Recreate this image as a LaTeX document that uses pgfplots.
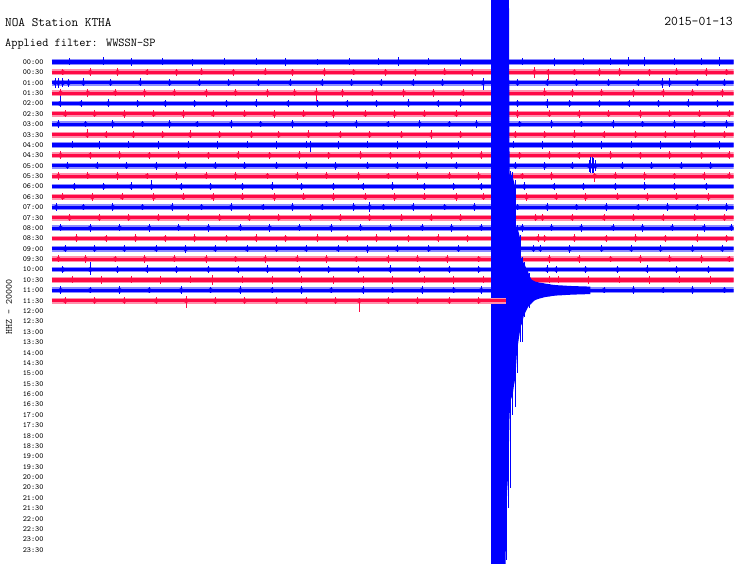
\documentclass[border=0pt]{standalone}
\usepackage{pgfplots}
\usepackage{pgfplotstable}
\pgfplotsset{compat=1.18}
\definecolor{hblue}{RGB}{0,0,255}
\definecolor{hred}{RGB}{255,10,70}

\pgfplotsset{
  band/.style={#1!45, line width=5.8pt},
  core/.style={#1, line width=3.1pt},
  spk/.style={only marks, mark=none, #1, error bars/.cd, y dir=both, y explicit,
    error mark=none, error bar style={line width=0.8pt, #1}},
}
% one helicorder line: #1 row (y), #2 colour, #3 last minute, #4 spikes (t up down)
\newcommand\helirow[4]{%
  \addplot[band=#2] coordinates {(0,#1) (#3,#1)};
  \addplot[core=#2] coordinates {(0,#1) (#3,#1)};
  \addplot[spk=#2] table[x=t, y expr=#1, y error plus=u, y error minus=d, row sep=\\] {t u d\\ #4\\};
}

% the earthquake on the 11:00 line: outline of the swing, minute and reach (line spacings)
\pgfplotstableread[row sep=\\]{
t r\\
19.34 30\\ 20.12 30\\ 20.15 11.2\\ 20.21 11.0\\ 20.26 11.2\\ 20.30 10.8\\ 20.34 10.5\\
20.39 10.0\\ 20.43 6.2\\ 20.48 6.0\\ 20.52 5.8\\ 20.56 5.5\\ 20.61 5.0\\ 20.65 3.2\\
20.70 3.0\\ 20.74 2.8\\ 20.78 2.6\\ 20.83 2.4\\ 20.87 2.2\\ 20.92 2.0\\ 20.96 1.8\\
21.01 1.5\\ 21.05 1.3\\ 21.10 1.1\\ 21.14 1.0\\ 21.18 .95\\ 21.23 .9\\ 21.27 .85\\
21.32 .82\\ 21.36 .8\\ 21.45 .75\\ 21.54 .72\\ 21.62 .7\\ 21.71 .65\\ 21.80 .62\\
21.89 .6\\ 22.0 .55\\ 22.2 .5\\ 22.4 .48\\ 22.6 .45\\ 22.85 .42\\ 23.1 .4\\ 23.4 .38\\
23.7 .36\\ 23.7 -.36\\ 23.4 -.38\\ 23.1 -.4\\ 22.85 -.42\\ 22.6 -.45\\ 22.4 -.48\\
22.2 -.5\\ 22.0 -.55\\ 21.89 -.6\\ 21.80 -.62\\ 21.71 -.65\\ 21.62 -.7\\ 21.54 -.75\\
21.45 -.8\\ 21.36 -.87\\ 21.32 -.9\\ 21.27 -.95\\ 21.23 -1.0\\ 21.18 -1.1\\ 21.14 -1.2\\
21.10 -1.3\\ 21.05 -1.4\\ 21.01 -1.5\\ 20.96 -1.6\\ 20.92 -1.8\\ 20.87 -2.0\\ 20.83 -2.2\\
20.78 -2.4\\ 20.74 -2.8\\ 20.70 -3.2\\ 20.65 -3.4\\ 20.61 -3.9\\ 20.56 -4.6\\ 20.52 -5.2\\
20.48 -5.8\\ 20.43 -7.5\\ 20.39 -8.6\\ 20.34 -9.2\\ 20.30 -9.8\\ 20.26 -10.2\\ 20.21 -10.5\\
20.15 -12\\ 20.12 -15\\ 20.08 -18\\ 20.04 -19.5\\ 20.00 -23\\ 19.94 -30\\ 19.34 -30\\
}\quake
% single large swings that stand out of the outline
\pgfplotstableread[row sep=\\]{
t u d\\
20.02 30 26\\ 20.10 30 21\\ 20.17 11.5 19\\ 20.28 11.4 12\\ 20.39 10.6 11.2\\
20.50 6.3 8\\ 20.63 5.3 5\\ 20.70 3.2 5.0\\ 20.80 2.7 2.6\\ 21.0 1.7 1.7\\
}\quakepeaks

\begin{document}
\begin{tikzpicture}[x=1pt,y=1pt]
\begin{axis}[
  at={(51.5pt,0pt)}, anchor=south west,
  scale only axis, width=682pt, height=564pt,
  xmin=0, xmax=30, ymin=-48.36, ymax=5.97,
  axis line style={draw=none}, tick style={draw=none}, major tick length=0pt,
  xtick=\empty,
  ytick={0,-1,...,-47},
  yticklabels={00:00,00:30,01:00,01:30,02:00,02:30,03:00,03:30,04:00,04:30,05:00,05:30,
    06:00,06:30,07:00,07:30,08:00,08:30,09:00,09:30,10:00,10:30,11:00,11:30,
    12:00,12:30,13:00,13:30,14:00,14:30,15:00,15:30,16:00,16:30,17:00,17:30,
    18:00,18:30,19:00,19:30,20:00,20:30,21:00,21:30,22:00,22:30,23:00,23:30},
  yticklabel style={font=\fontsize{7.8}{8}\selectfont\ttfamily, xshift=-4.5pt},
]
\helirow{0}{hblue}{30}{0.8 .35 .3\\ 2.27 .5 .3\\ 3.5 .35 .35\\ 4.9 .38 .3\\ 6.2 .33 .36\\ 7.6 .4 .3\\ 9.0 .35 .33\\ 10.3 .38 .35\\ 11.7 .33 .3\\ 13.1 .36 .34\\ 14.4 .35 .3\\ 15.25 .45 .35\\ 16.6 .35 .3\\ 18.0 .38 .36\\ 20.7 .36 .33\\ 22.1 .35 .35\\ 23.4 .38 .3\\ 24.6 .34 .32\\ 25.37 .5 .35\\ 26.1 .5 .42\\ 27.4 .36 .3\\ 28.6 .35 .34\\ 29.4 .48 .35}
\helirow{-1}{hred}{30}{0.5 .35 .3\\ 1.7 .38 .35\\ 2.9 .4 .33\\ 4.2 .35 .3\\ 5.5 .36 .38\\ 6.6 .42 .3\\ 8.0 .35 .35\\ 9.4 .38 .3\\ 10.6 .35 .33\\ 12.0 .4 .36\\ 13.3 .35 .3\\ 14.7 .37 .35\\ 16.0 .35 .32\\ 17.3 .38 .3\\ 18.5 .36 .35\\ 21.24 .55 .55\\ 21.84 .35 .8\\ 23.0 .36 .3\\ 24.1 .38 .35\\ 25.0 .45 .35\\ 26.3 .35 .33\\ 27.5 .38 .3\\ 28.8 .4 .36\\ 29.7 .35 .3}
\helirow{-2}{hblue}{30}{0.15 .5 .5\\ 0.3 .45 .55\\ 0.5 .5 .45\\ 0.75 .4 .45\\ 1.4 .42 .35\\ 2.6 .38 .35\\ 3.9 .45 .35\\ 5.2 .36 .3\\ 6.5 .38 .36\\ 7.8 .35 .3\\ 9.1 .4 .35\\ 10.5 .36 .33\\ 11.9 .35 .3\\ 13.2 .38 .36\\ 14.5 .35 .3\\ 15.9 .4 .35\\ 17.2 .36 .3\\ 18.98 .5 .85\\ 20.5 .36 .3\\ 21.8 .35 .35\\ 23.1 .38 .3\\ 24.5 .36 .33\\ 25.8 .4 .35\\ 26.86 .5 .5\\ 27.2 .45 .4\\ 28.4 .36 .3\\ 29.6 .38 .35}
\helirow{-3}{hred}{30}{0.4 .36 .3\\ 1.6 .38 .35\\ 2.8 .35 .3\\ 4.1 .4 .36\\ 5.4 .35 .3\\ 6.8 .38 .35\\ 8.1 .36 .3\\ 9.5 .4 .33\\ 10.7 .35 .3\\ 11.64 .5 1.0\\ 12.8 .36 .35\\ 14.1 .38 .3\\ 15.5 .35 .33\\ 16.8 .4 .35\\ 18.1 .36 .3\\ 21.7 .5 .3\\ 22.9 .36 .35\\ 24.2 .38 .3\\ 25.6 .35 .33\\ 26.9 .4 .35\\ 28.2 .36 .3\\ 29.5 .38 .35}
\helirow{-4}{hblue}{30}{0.37 .75 .3\\ 1.3 .38 .35\\ 2.5 .4 .3\\ 3.8 .36 .35\\ 5.0 .35 .3\\ 6.3 .38 .36\\ 7.7 .36 .3\\ 9.0 .4 .35\\ 10.4 .35 .33\\ 11.7 .38 .3\\ 13.0 .36 .35\\ 14.3 .35 .3\\ 15.7 .4 .36\\ 17.0 .36 .3\\ 18.0 .42 .35\\ 20.5 .35 .3\\ 21.8 .42 .4\\ 22.8 .38 .36\\ 24.1 .36 .3\\ 25.4 .38 .35\\ 26.7 .35 .3\\ 28.0 .4 .35\\ 29.3 .36 .33}
\helirow{-5}{hred}{30}{0.6 .36 .33\\ 1.9 .38 .3\\ 3.2 .35 .35\\ 4.5 .4 .3\\ 5.8 .36 .36\\ 7.1 .38 .3\\ 8.5 .35 .33\\ 9.8 .4 .35\\ 11.1 .36 .3\\ 12.4 .38 .36\\ 13.8 .35 .3\\ 15.1 .4 .35\\ 16.4 .36 .3\\ 17.8 .38 .33\\ 20.5 .38 .35\\ 21.9 .36 .3\\ 23.2 .4 .36\\ 24.5 .35 .3\\ 25.9 .38 .35\\ 27.2 .36 .3\\ 28.5 .4 .33\\ 29.8 .35 .3}
\helirow{-6}{hblue}{30}{0.3 .38 .35\\ 1.5 .36 .3\\ 2.7 .4 .35\\ 4.0 .35 .3\\ 5.2 .38 .36\\ 6.4 .36 .3\\ 7.9 .42 .38\\ 9.2 .35 .3\\ 10.6 .38 .35\\ 12.1 .36 .3\\ 13.4 .4 .36\\ 14.8 .35 .3\\ 16.2 .38 .35\\ 17.5 .36 .3\\ 18.7 .4 .35\\ 20.6 .35 .3\\ 22.0 .38 .36\\ 23.3 .36 .3\\ 24.7 .4 .35\\ 26.0 .35 .3\\ 27.4 .38 .36\\ 28.7 .36 .3\\ 29.7 .4 .35}
\helirow{-7}{hred}{30}{1.57 .5 .35\\ 2.4 .36 .3\\ 3.6 .38 .35\\ 4.9 .35 .3\\ 6.1 .4 .36\\ 7.4 .36 .3\\ 8.8 .38 .35\\ 10.0 .35 .3\\ 11.3 .4 .35\\ 12.7 .36 .3\\ 14.0 .38 .36\\ 15.4 .35 .3\\ 16.7 .45 .4\\ 18.0 .36 .3\\ 20.4 .38 .35\\ 21.7 .36 .3\\ 23.0 .4 .36\\ 24.3 .35 .3\\ 25.7 .38 .35\\ 27.0 .36 .3\\ 28.3 .4 .35\\ 29.6 .35 .3}
\helirow{-8}{hblue}{30}{0.9 .36 .3\\ 2.1 .4 .35\\ 3.4 .35 .3\\ 4.7 .38 .36\\ 6.0 .36 .3\\ 7.3 .4 .35\\ 8.6 .35 .3\\ 9.9 .38 .35\\ 11.2 .36 .3\\ 11.4 .4 .7\\ 12.6 .4 .36\\ 13.9 .35 .3\\ 15.2 .38 .35\\ 16.5 .36 .3\\ 17.9 .4 .35\\ 20.3 .35 .3\\ 21.6 .38 .36\\ 22.9 .36 .3\\ 24.2 .4 .35\\ 25.5 .35 .3\\ 26.8 .38 .36\\ 28.1 .36 .3\\ 29.4 .4 .35}
\helirow{-9}{hred}{30}{0.4 .38 .35\\ 1.7 .36 .3\\ 3.0 .4 .36\\ 4.3 .35 .3\\ 5.6 .38 .35\\ 6.9 .36 .3\\ 8.2 .4 .35\\ 9.6 .35 .3\\ 10.9 .38 .36\\ 12.2 .36 .3\\ 13.6 .4 .35\\ 14.9 .35 .3\\ 16.2 .38 .35\\ 17.6 .36 .3\\ 18.9 .4 .36\\ 20.6 .35 .3\\ 21.9 .38 .35\\ 23.2 .36 .3\\ 24.6 .4 .35\\ 25.9 .35 .3\\ 27.2 .38 .36\\ 28.6 .36 .3\\ 29.8 .4 .35}
\helirow{-10}{hblue}{30}{0.7 .36 .3\\ 2.0 .38 .35\\ 3.3 .36 .3\\ 4.6 .4 .36\\ 5.9 .35 .3\\ 7.2 .38 .35\\ 8.5 .36 .3\\ 9.9 .4 .35\\ 11.2 .35 .3\\ 12.5 .38 .36\\ 13.9 .36 .3\\ 15.2 .4 .35\\ 16.5 .35 .3\\ 17.8 .38 .35\\ 20.4 .36 .3\\ 21.7 .4 .36\\ 22.9 .35 .3\\ 23.65 .6 .6\\ 23.72 .8 .75\\ 23.78 .85 .85\\ 23.85 .75 .7\\ 23.92 .55 .55\\ 25.1 .38 .35\\ 26.4 .36 .3\\ 27.7 .4 .35\\ 29.0 .35 .3}
\helirow{-11}{hred}{30}{0.3 .38 .35\\ 1.6 .36 .3\\ 2.9 .4 .35\\ 4.2 .35 .3\\ 5.5 .38 .36\\ 6.8 .36 .3\\ 8.1 .4 .35\\ 9.5 .35 .3\\ 10.8 .38 .35\\ 12.1 .36 .3\\ 13.5 .4 .36\\ 14.8 .35 .3\\ 16.1 .38 .35\\ 17.5 .36 .3\\ 18.8 .4 .35\\ 20.7 .35 .3\\ 22.0 .38 .36\\ 23.9 .35 .55\\ 24.8 .36 .3\\ 26.1 .4 .35\\ 27.4 .35 .3\\ 28.7 .38 .36\\ 29.8 .36 .3}
\helirow{-12}{hblue}{30}{1.0 .38 .35\\ 2.3 .36 .3\\ 3.5 .4 .35\\ 4.4 .6 .35\\ 5.7 .36 .3\\ 7.0 .38 .35\\ 8.4 .35 .3\\ 9.7 .4 .36\\ 11.0 .36 .3\\ 12.4 .38 .35\\ 13.7 .35 .3\\ 15.0 .4 .35\\ 16.4 .36 .3\\ 17.7 .38 .36\\ 18.9 .35 .3\\ 20.8 .4 .35\\ 22.1 .36 .3\\ 23.4 .38 .35\\ 24.8 .35 .3\\ 26.1 .4 .36\\ 27.4 .36 .3\\ 28.8 .38 .35}
\helirow{-13}{hred}{30}{0.5 .36 .3\\ 1.8 .4 .35\\ 3.1 .35 .3\\ 4.5 .38 .36\\ 5.8 .36 .3\\ 7.1 .4 .35\\ 8.4 .35 .3\\ 9.8 .38 .35\\ 11.1 .36 .3\\ 12.4 .4 .36\\ 13.8 .35 .3\\ 15.1 .38 .35\\ 16.4 .36 .3\\ 17.8 .4 .35\\ 19.0 .35 .3\\ 20.9 .38 .36\\ 22.2 .36 .3\\ 23.5 .4 .35\\ 24.9 .35 .3\\ 26.2 .38 .35\\ 27.5 .36 .3\\ 28.9 .4 .36}
\helirow{-14}{hblue}{30}{0.2 .4 .35\\ 1.4 .36 .3\\ 2.7 .38 .35\\ 4.0 .35 .3\\ 5.3 .4 .36\\ 6.6 .36 .3\\ 7.9 .38 .35\\ 9.3 .35 .3\\ 10.6 .4 .35\\ 11.9 .36 .3\\ 13.3 .38 .36\\ 14.0 .55 .5\\ 14.6 .35 .3\\ 15.9 .4 .35\\ 17.3 .36 .3\\ 18.6 .38 .35\\ 20.5 .35 .3\\ 21.8 .4 .36\\ 23.1 .36 .3\\ 24.4 .38 .35\\ 25.8 .35 .3\\ 27.1 .4 .35\\ 28.4 .36 .3\\ 29.7 .38 .36}
\helirow{-15}{hred}{30}{0.8 .38 .35\\ 2.1 .36 .3\\ 3.4 .4 .35\\ 4.7 .35 .3\\ 6.0 .38 .36\\ 7.4 .36 .3\\ 8.7 .4 .35\\ 10.0 .35 .3\\ 11.4 .38 .35\\ 12.7 .36 .3\\ 14.0 .4 .36\\ 15.4 .35 .3\\ 16.7 .38 .35\\ 18.0 .36 .3\\ 21.3 .4 .35\\ 21.6 .35 .3\\ 22.9 .38 .36\\ 24.3 .36 .3\\ 25.6 .4 .35\\ 26.9 .35 .3\\ 28.3 .38 .35\\ 29.6 .36 .3}
\helirow{-16}{hblue}{30}{0.4 .36 .3\\ 1.7 .4 .35\\ 3.0 .35 .3\\ 4.3 .38 .36\\ 5.6 .36 .3\\ 6.9 .4 .35\\ 8.3 .35 .3\\ 9.6 .38 .35\\ 10.9 .36 .3\\ 12.3 .4 .36\\ 13.6 .35 .3\\ 14.9 .38 .35\\ 16.3 .36 .3\\ 17.6 .4 .35\\ 18.9 .35 .3\\ 20.7 .38 .36\\ 22.0 .36 .3\\ 23.3 .4 .35\\ 24.7 .35 .3\\ 26.0 .38 .35\\ 27.3 .36 .3\\ 28.7 .4 .36\\ 29.9 .35 .3}
\helirow{-17}{hred}{30}{1.1 .4 .35\\ 2.4 .35 .3\\ 3.7 .38 .36\\ 5.0 .36 .3\\ 6.3 .4 .35\\ 7.7 .35 .3\\ 9.0 .38 .35\\ 10.3 .36 .3\\ 11.7 .4 .36\\ 13.0 .35 .3\\ 14.3 .38 .35\\ 15.7 .36 .3\\ 17.0 .4 .35\\ 18.3 .35 .3\\ 21.4 .38 .36\\ 21.7 .36 .3\\ 23.0 .4 .35\\ 24.4 .35 .3\\ 25.7 .38 .35\\ 27.0 .36 .3\\ 28.4 .4 .36\\ 29.7 .35 .3}
\helirow{-18}{hblue}{30}{0.6 .38 .35\\ 1.9 .36 .3\\ 3.2 .4 .35\\ 4.6 .35 .3\\ 5.9 .38 .36\\ 7.2 .36 .3\\ 8.6 .4 .35\\ 9.9 .35 .3\\ 11.2 .38 .35\\ 12.6 .36 .3\\ 13.9 .4 .36\\ 15.2 .35 .3\\ 16.6 .38 .35\\ 17.9 .36 .3\\ 21.2 .4 .35\\ 21.5 .35 .3\\ 22.8 .38 .36\\ 24.2 .36 .3\\ 25.5 .4 .35\\ 26.8 .35 .3\\ 28.2 .38 .35\\ 29.5 .36 .3}
\helirow{-19}{hred}{30}{0.3 .36 .3\\ 1.5 .4 .35\\ 2.8 .35 .3\\ 4.1 .38 .36\\ 5.4 .36 .3\\ 6.8 .4 .35\\ 8.1 .35 .3\\ 9.4 .38 .35\\ 10.8 .36 .3\\ 12.1 .4 .36\\ 13.4 .35 .3\\ 14.8 .38 .35\\ 16.1 .36 .3\\ 17.4 .4 .35\\ 18.8 .35 .3\\ 21.9 .38 .36\\ 23.2 .4 .35\\ 24.6 .35 .3\\ 25.9 .38 .35\\ 27.2 .36 .3\\ 28.6 .4 .36\\ 29.8 .35 .3}
\helirow{-20}{hblue}{30}{0.5 .38 .35\\ 1.7 .7 .5\\ 2.9 .36 .3\\ 4.2 .4 .35\\ 5.5 .35 .3\\ 6.9 .38 .36\\ 8.2 .36 .3\\ 9.5 .4 .35\\ 10.9 .35 .3\\ 12.2 .38 .35\\ 13.5 .36 .3\\ 14.9 .4 .36\\ 16.2 .35 .3\\ 17.5 .38 .35\\ 18.8 .36 .3\\ 21.8 .4 .35\\ 22.2 .35 .3\\ 23.5 .38 .36\\ 24.9 .36 .3\\ 26.2 .4 .35\\ 27.5 .35 .3\\ 28.9 .38 .35}
\helirow{-21}{hred}{30}{0.9 .36 .3\\ 2.2 .4 .35\\ 3.5 .35 .3\\ 4.8 .38 .36\\ 6.1 .36 .3\\ 7.06 .5 .5\\ 8.4 .35 .3\\ 9.7 .38 .35\\ 11.0 .36 .3\\ 12.4 .4 .36\\ 13.7 .35 .3\\ 15.0 .38 .35\\ 16.4 .36 .3\\ 17.7 .4 .35\\ 19.0 .35 .3\\ 21.9 .38 .3\\ 22.3 .36 .3\\ 23.6 .4 .35\\ 25.0 .35 .3\\ 26.3 .38 .35\\ 27.6 .36 .3\\ 29.0 .4 .36}
\helirow{-22}{hblue}{30}{0.4 .38 .35\\ 1.7 .36 .3\\ 3.0 .4 .35\\ 4.3 .35 .3\\ 5.7 .38 .36\\ 7.0 .36 .3\\ 8.3 .4 .35\\ 9.7 .35 .3\\ 11.0 .38 .35\\ 12.3 .36 .3\\ 13.7 .4 .36\\ 15.0 .35 .3\\ 16.3 .38 .35\\ 17.7 .36 .3\\ 18.9 .4 .35\\ 24.3 .36 .3\\ 25.6 .38 .35\\ 26.9 .35 .3\\ 28.2 .4 .36\\ 29.6 .36 .3}
% earthquake: largest single swings first, the outline over them
\addplot[spk=hblue] table[x=t, y expr=-22, y error plus=u, y error minus=d] {\quakepeaks};
\addplot[fill=hblue, draw=none] table[x=t, y expr=-22+\thisrow{r}] {\quake};
\helirow{-23}{hred}{20.0}{0.6 .38 .35\\ 1.9 .36 .3\\ 3.2 .4 .35\\ 4.6 .35 .3\\ 5.92 .45 .7\\ 7.2 .36 .3\\ 8.5 .38 .35\\ 9.9 .35 .3\\ 11.2 .4 .36\\ 12.5 .36 .3\\ 13.53 .3 1.05\\ 14.8 .38 .35\\ 16.1 .35 .3\\ 17.5 .4 .36\\ 18.8 .36 .3}
\end{axis}
\node[anchor=base west, inner sep=0pt, font=\fontsize{12.9}{14}\selectfont\ttfamily] at (5,537.5) {NOA Station KTHA};
\node[anchor=base east, inner sep=0pt, font=\fontsize{13.3}{14}\selectfont\ttfamily] at (733,538) {2015-01-13};
\node[anchor=base west, inner sep=0pt, font=\fontsize{12}{14}\selectfont\ttfamily] at (5,517.3) {Applied filter: WWSSN-SP};
\node[rotate=90, inner sep=0pt, font=\fontsize{9.5}{11}\selectfont\ttfamily] at (9,257) {HHZ - 20000};
\pgfresetboundingbox
\path[use as bounding box] (0,0) rectangle (740,564);
\end{tikzpicture}
\end{document}
